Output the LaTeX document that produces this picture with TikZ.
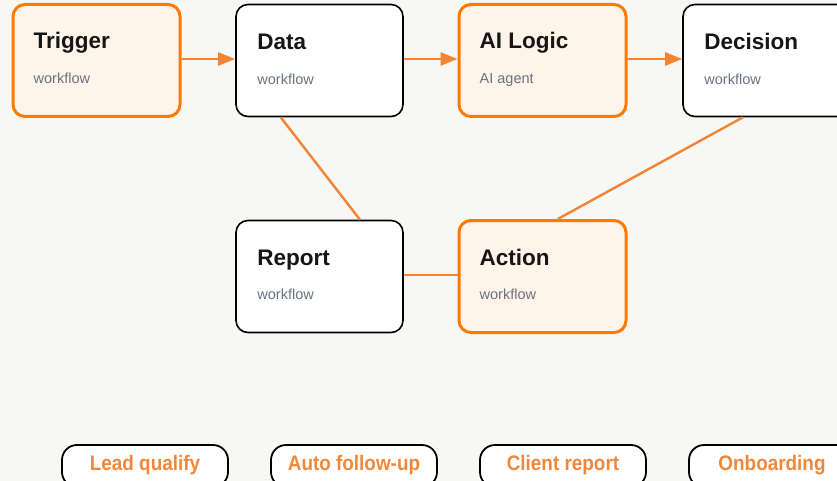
\documentclass[tikz,border=0pt]{standalone}
\usepackage{fontspec}
\setmainfont{Liberation Sans}
\newfontfamily\pillfont[FakeStretch=0.9]{Liberation Sans}
\usetikzlibrary{arrows.meta,calc}
\definecolor{bg}{HTML}{F7F7F5}
\definecolor{orng}{HTML}{FF7A00}
\definecolor{lineorng}{HTML}{F28433}
\definecolor{pale}{HTML}{FFF4EA}
\definecolor{ink}{HTML}{161616}
\definecolor{subgray}{HTML}{6B7280}
\definecolor{pilltext}{HTML}{F2873A}
\tikzset{
  x=1pt,y=1pt,
  boxbase/.style={rectangle,rounded corners=12pt,minimum width=167pt,minimum height=112pt,inner sep=0pt},
  hotbox/.style={boxbase,draw=orng,line width=3pt,fill=pale},
  plainbox/.style={boxbase,draw=black,line width=1.6pt,fill=white},
  ttl/.style={anchor=base west,inner sep=0pt,font=\fontsize{22.5}{26}\selectfont\bfseries,text=ink},
  sub/.style={anchor=base west,inner sep=0pt,font=\fontsize{14.5}{17}\selectfont,text=subgray},
  flow/.style={draw=lineorng,line width=2.4pt,-{Triangle[length=17pt,width=13pt]}},
  link/.style={draw=lineorng,line width=2.4pt},
  pill/.style={rectangle,rounded corners=15pt,draw=black,line width=1.8pt,fill=white,minimum width=166pt,minimum height=42pt,inner sep=0pt},
  pilllbl/.style={inner sep=0pt,anchor=base,font=\pillfont\fontsize{21}{24}\selectfont\bfseries,text=pilltext}
}
\begin{document}
\begin{tikzpicture}
\useasboundingbox (0,0) rectangle (837,-481);
\clip (0,0) rectangle (837,-481);
\fill[bg] (0,0) rectangle (837,-481);

% boxes
\node[hotbox]   (trigger)  at (96.5,-60.5) {};
\node[plainbox] (data)     at (319.5,-60.5) {};
\node[hotbox]   (ailogic)  at (542.5,-60.5) {};
\node[plainbox] (decision) at (766.5,-60.5) {};
\node[plainbox] (report)   at (319.5,-276.5) {};
\node[hotbox]   (action)   at (542.5,-276.5) {};

% texts
\node[ttl] (t1) at ($(trigger.north west)+(22,-46)$) {Trigger};
\node[sub] (s1) at ($(trigger.north west)+(22,-81)$) {workflow};
\node[ttl] (t2) at ($(data.north west)+(22,-46)$) {Data};
\node[sub] (s2) at ($(data.north west)+(22,-81)$) {workflow};
\node[ttl] (t3) at ($(ailogic.north west)+(22,-46)$) {AI Logic};
\node[sub] (s3) at ($(ailogic.north west)+(22,-81)$) {AI agent};
\node[ttl] (t4) at ($(decision.north west)+(22,-46)$) {Decision};
\node[sub] (s4) at ($(decision.north west)+(22,-81)$) {workflow};
\node[ttl] (t5) at ($(report.north west)+(22,-46)$) {Report};
\node[sub] (s5) at ($(report.north west)+(22,-80)$) {workflow};
\node[ttl] (t6) at ($(action.north west)+(22,-46)$) {Action};
\node[sub] (s6) at ($(action.north west)+(22,-80)$) {workflow};

% connectors
\draw[flow] ($(trigger.east)+(0,1.5)$) -- ($(data.west)+(0,1.5)$);
\draw[flow] ($(data.east)+(0,1.5)$) -- ($(ailogic.west)+(0,1.5)$);
\draw[flow] ($(ailogic.east)+(0,1.5)$) -- ($(decision.west)+(0,1.5)$);
\draw[link] ($(data.south west)!0.27!(data.south east)$) -- ($(report.north west)!0.74!(report.north east)$);
\draw[link] ($(decision.south west)!0.36!(decision.south east)$) -- ($(action.north west)!0.59!(action.north east)$);
\draw[link] ($(report.east)+(0,1.5)$) -- ($(action.west)+(0,1.5)$);

% pills
\node[pill] (p1) at (145,-466) {};
\node[pill] (p2) at (354,-466) {};
\node[pill] (p3) at (563,-466) {};
\node[pill] (p4) at (772,-466) {};
\node[pilllbl] (l1) at ($(p1.center)+(0,-4.5)$) {Lead qualify};
\node[pilllbl] (l2) at ($(p2.center)+(0,-4.5)$) {Auto follow-up};
\node[pilllbl] (l3) at ($(p3.center)+(0,-4.5)$) {Client report};
\node[pilllbl] (l4) at ($(p4.center)+(0,-4.5)$) {Onboarding};
\end{tikzpicture}
\end{document}
